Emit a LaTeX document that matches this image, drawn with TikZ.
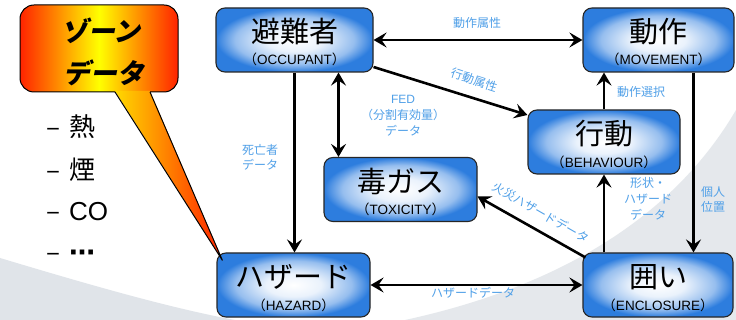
\documentclass[tikz,border=0pt]{standalone}
\usepackage{fontspec}
\setmainfont{Noto Sans CJK JP}
\newfontfamily\zonefont[FakeSlant=0.2]{Noto Sans CJK JP}
\newfontfamily\dejavu{DejaVu Sans}
\newfontfamily\arialish{Liberation Sans}
\usetikzlibrary{arrows.meta,shadings}
\definecolor{nodeblue}{RGB}{45,125,222}
\definecolor{lblblue}{RGB}{80,160,232}
\definecolor{swoosh}{RGB}{224,228,233}
\definecolor{calred}{RGB}{255,35,0}
\definecolor{calyel}{RGB}{255,255,0}
\pgfdeclareradialshading{nodeshade}{\pgfpoint{0bp}{0bp}}{color(0bp)=(white); color(9bp)=(nodeblue!10!white); color(19bp)=(nodeblue!50!white); color(25bp)=(nodeblue); color(50bp)=(nodeblue)}
\newcommand{\smalltext}[1]{（{\arialish #1}）}
\begin{document}
\begin{tikzpicture}[x=1pt,y=-1pt,
 box/.style={draw=black!85, line width=1.1pt, rounded corners=9pt, shade, shading=nodeshade, minimum width=153pt, minimum height=64pt, inner sep=0pt},
 big/.style={font=\fontsize{29}{32}\selectfont, inner sep=0pt},
 small/.style={font=\fontsize{13.5}{16}\selectfont, inner sep=0pt},
 lbl/.style={font=\fontsize{12}{16}\selectfont, text=lblblue, align=center, inner sep=0pt},
 item/.style={font=\fontsize{26}{30}\selectfont, anchor=west, inner sep=0pt},
 arr/.style={line width=2.6pt, -{Stealth[length=13pt,width=15pt,inset=5pt]}},
 darr/.style={line width=2.6pt, {Stealth[length=13pt,width=15pt,inset=5pt]}-{Stealth[length=13pt,width=15pt,inset=5pt]}}]
\useasboundingbox (0,0) rectangle (736,320);
\fill[white] (0,0) rectangle (736,320);
% background swoosh
\fill[swoosh] (0,258) .. controls (90,285) and (170,308) .. (235,320) -- (0,320) -- cycle;
\fill[swoosh!85!white] (405,320) .. controls (520,295) and (660,240) .. (736,110) -- (736,320) -- cycle;

% nodes
\node[box, minimum width=157pt] (occ) at (294.5,40) {};
\node[big] (occT) at ([yshift=8pt]occ.center) {避難者};
\node[small] (occS) at ([yshift=-19pt]occ.center) {\smalltext{OCCUPANT}};

\node[box, minimum width=151pt] (mov) at (658.5,40) {};
\node[big] (movT) at ([yshift=8pt]mov.center) {動作};
\node[small] (movS) at ([yshift=-19pt]mov.center) {\smalltext{MOVEMENT}};

\node[box, minimum width=152pt] (beh) at (604,142) {};
\node[big] (behT) at ([yshift=8pt]beh.center) {行動};
\node[small] (behS) at ([yshift=-20pt]beh.center) {\smalltext{BEHAVIOUR}};

\node[box] (tox) at (400.5,189.5) {};
\node[big] (toxT) at ([yshift=8pt]tox.center) {毒ガス};
\node[small] (toxS) at ([yshift=-20pt]tox.center) {\smalltext{TOXICITY}};

\node[box] (haz) at (293.5,285) {};
\node[big] (hazT) at ([yshift=8pt]haz.center) {ハザード};
\node[small] (hazS) at ([yshift=-20pt]haz.center) {\smalltext{HAZARD}};

\node[box, minimum width=150pt] (enc) at (658,285) {};
\node[big] (encT) at ([yshift=8pt]enc.center) {囲い};
\node[small] (encS) at ([yshift=-20pt]enc.center) {\smalltext{ENCLOSURE}};

% connectors
\draw[darr] (occ.east) -- (mov.west);
\draw[arr] ([yshift=-27pt]occ.east) -- ([yshift=27pt]beh.west);
\draw[darr] ([xshift=44pt]occ.south) -- ([xshift=44pt]occ.south |- tox.north);
\draw[arr] (occ.south) -- (occ.south |- haz.north);
\draw[arr] (beh.north) -- (beh.north |- mov.south);
\draw[arr] ([xshift=35pt]mov.south) -- ([xshift=35pt]mov.south |- enc.north);
\draw[arr] (enc.north -| beh.south) -- (beh.south);
\draw[arr] ([xshift=3pt,yshift=-5pt]enc.north west) -- ([yshift=-7pt]tox.east);
\draw[darr] (haz.east) -- (enc.west);

% labels
\node[lbl] (l1) at (477,23) {動作属性};
\node[lbl, rotate=-18] (l2) at (474,80) {行動属性};
\node[lbl] (l3) at (403,116) {{\arialish FED}\\（分割有効量）\\データ};
\node[lbl, font=\fontsize{12}{15}\selectfont] (l4) at (260,157.5) {死亡者\\データ};
\node[lbl] (l5) at (641,92) {動作選択};
\node[lbl] (l6) at (648,199) {形状・\\ハザード\\データ};
\node[lbl, font=\fontsize{12}{15}\selectfont] (l7) at (713,199.5) {個人\\位置};
\node[lbl, rotate=-30] (l8) at (541,213) {火災ハザードデータ};
\node[lbl] (l9) at (473,293) {ハザードデータ};

% callout
\coordinate (tip) at ([xshift=6pt,yshift=-8pt]haz.north west);
\shade[left color=calred, right color=calred, middle color=calyel, rounded corners=14pt] (20,5) rectangle (178,92);
\shade[left color=calyel!70!orange, right color=calred] (115,91) -- (150,91) -- (tip) -- cycle;
\draw[line width=1pt, rounded corners=14pt] (115,92) -- (20,92) -- (20,5) -- (178,5) -- (178,92) -- (150,92);
\draw[line width=1pt, line join=miter] (115,92) -- (tip) -- (150,92);
\node[font=\zonefont\bfseries\fontsize{27}{30}\selectfont, inner sep=0pt] (z1) at (101,31) {ゾーン};
\node[font=\zonefont\bfseries\fontsize{27}{30}\selectfont, inner sep=0pt] (z2) at (104,73) {データ};

% list
\node[item] (i1) at (46,127) {–\hspace{9pt}熱};
\node[item] (i2) at (46,170) {–\hspace{9pt}煙};
\node[item] (i3) at (46,212) {–\hspace{9pt}{\arialish CO}};
\node[item] (i4) at (46,256) {–\hspace{9pt}{\dejavu\bfseries ⋯}};
\end{tikzpicture}
\end{document}
